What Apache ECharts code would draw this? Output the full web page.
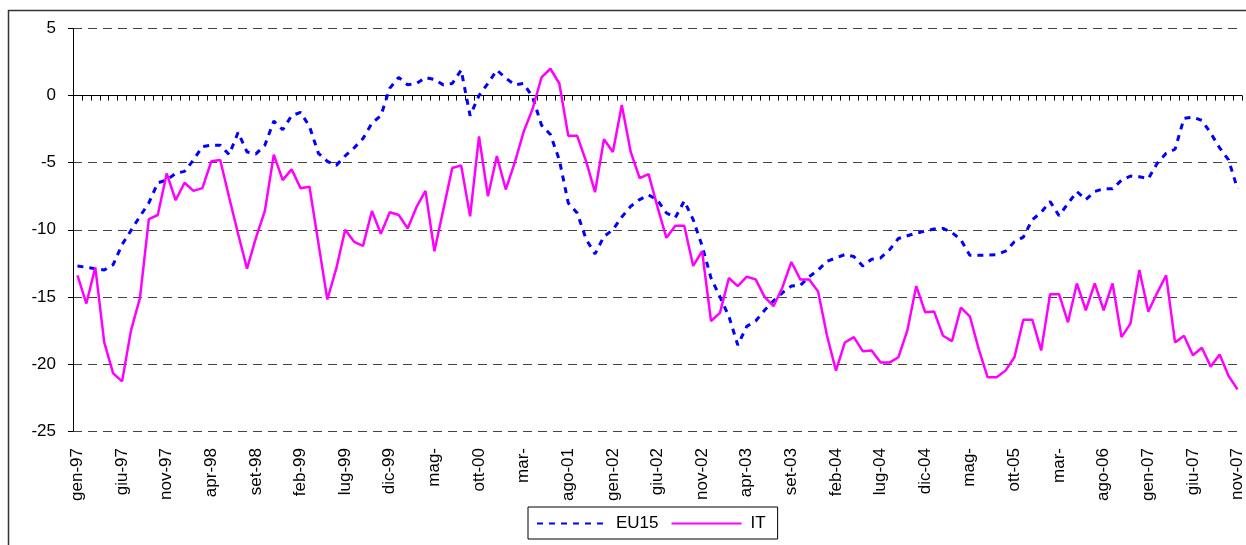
<!DOCTYPE html>
<html>
<head>
<meta charset="utf-8">
<script src="https://cdn.jsdelivr.net/npm/echarts@6/dist/echarts.min.js"></script>
<style>html,body{margin:0;padding:0;background:#fff}#c{width:1246px;height:545px}</style>
</head>
<body>
<div id="c"></div>
<script>
var monthNames = ['gen','feb','mar','apr','mag','giu','lug','ago','set','ott','nov','dic'];
var categories = [];
for (var y = 1997; y <= 2007; y++) {
  for (var m = 0; m < 12; m++) {
    if (y === 2007 && m > 10) break;
    categories.push(monthNames[m] + '-' + String(y).slice(2));
  }
}
var tickLabels = ['gen-97','giu-97','nov-97','apr-98','set-98','feb-99','lug-99','dic-99','mag-','ott-00','mar-','ago-01','gen-02','giu-02','nov-02','apr-03','set-03','feb-04','lug-04','dic-04','mag-','ott-05','mar-','ago-06','gen-07','giu-07','nov-07'];

var EU15 = [-12.7,-12.8,-12.9,-13.0,-12.6,-11.1,-10.05,-9.0,-8.0,-6.5,
  -6.3,-5.8,-5.65,-4.8,-3.8,-3.7,-3.7,-4.4,-2.75,-4.2,
  -4.35,-3.7,-1.9,-2.55,-1.5,-1.25,-2.3,-4.3,-4.9,-5.2,
  -4.5,-3.9,-3.2,-2.05,-1.5,0.55,1.36,0.8,0.9,1.35,
  1.2,0.8,0.9,1.9,-1.5,0.0,0.9,1.9,1.3,0.8,
  0.9,-0.1,-2.2,-2.9,-4.8,-8.0,-8.75,-10.7,-11.8,-10.5,
  -10.0,-9.05,-8.25,-7.75,-7.4,-7.8,-8.75,-9.1,-7.85,-9.25,
  -11.2,-13.6,-15.0,-16.45,-18.6,-17.2,-16.8,-16.0,-15.3,-14.7,
  -14.2,-14.15,-13.5,-13.0,-12.35,-12.1,-11.85,-12.0,-12.7,-12.2,
  -12.1,-11.5,-10.65,-10.45,-10.25,-10.1,-9.95,-9.9,-10.2,-10.75,
  -11.9,-11.9,-11.9,-11.85,-11.6,-10.9,-10.55,-9.25,-8.7,-7.9,
  -8.95,-8.05,-7.15,-7.75,-7.15,-6.95,-6.95,-6.3,-6.0,-6.05,
  -6.2,-5.05,-4.3,-4.0,-1.7,-1.6,-1.85,-2.8,-3.9,-4.8,
  -6.95];

var IT = [-13.4,-15.5,-12.8,-18.4,-20.7,-21.3,-17.5,-15.1,-9.2,-8.9,
  -5.8,-7.8,-6.5,-7.1,-6.9,-4.9,-4.8,-7.6,-10.3,-12.9,
  -10.6,-8.6,-4.4,-6.3,-5.5,-6.9,-6.8,-11.0,-15.2,-12.9,
  -10.0,-10.9,-11.2,-8.6,-10.3,-8.7,-8.9,-9.9,-8.3,-7.1,
  -11.6,-8.5,-5.4,-5.2,-9.0,-3.05,-7.5,-4.5,-7.0,-5.0,
  -2.7,-1.0,1.35,2.0,0.9,-3.0,-3.0,-4.9,-7.2,-3.25,
  -4.2,-0.7,-4.2,-6.15,-5.85,-8.3,-10.6,-9.7,-9.7,-12.7,
  -11.6,-16.8,-16.2,-13.6,-14.2,-13.5,-13.7,-15.0,-15.7,-14.3,
  -12.4,-13.7,-13.7,-14.6,-17.9,-20.5,-18.4,-18.0,-19.05,-19.0,
  -19.9,-19.9,-19.5,-17.5,-14.2,-16.15,-16.1,-17.9,-18.3,-15.8,
  -16.45,-18.9,-21.0,-21.0,-20.5,-19.5,-16.7,-16.7,-19.0,-14.8,
  -14.8,-16.9,-14.0,-16.0,-14.0,-16.0,-14.0,-18.0,-17.0,-13.0,
  -16.1,-14.7,-13.4,-18.4,-17.9,-19.35,-18.8,-20.2,-19.3,-20.9,
  -21.9];

var FONT = '"Liberation Sans", Arial, sans-serif';
var chart = echarts.init(document.getElementById('c'), null, {renderer: 'canvas'});
chart.setOption({
  animation: false,
  backgroundColor: '#ffffff',
  graphic: [{
    type: 'rect',
    shape: {x: 8.5, y: 10.5, width: 1260, height: 560},
    style: {fill: 'none', stroke: '#333', lineWidth: 1.5},
    silent: true, z: -1
  }],
  grid: {left: 73, right: 0, top: 28.5, bottom: 114, containLabel: false},
  legend: {
    data: ['EU15', 'IT'],
    left: 528, top: 507,
    orient: 'horizontal',
    itemWidth: 70, itemHeight: 10, itemGap: 12,
    padding: [8, 12, 7, 8],
    borderColor: '#000', borderWidth: 1,
    backgroundColor: '#fff',
    itemStyle: {opacity: 0},
    textStyle: {fontFamily: FONT, fontSize: 17, color: '#000', padding: [0, 0, 0, 4]}
  },
  xAxis: [{
    type: 'category', data: categories, position: 'bottom', boundaryGap: true,
    axisLine: {show: false, onZero: false},
    axisTick: {show: false},
    axisLabel: {
      interval: 0, rotate: 90, margin: 17,
      fontFamily: FONT, fontSize: 17, color: '#000',
      formatter: function (v, i) { return i % 5 === 0 ? tickLabels[i / 5] : ''; }
    },
    splitLine: {show: false}
  }, {
    type: 'category', data: categories, position: 'top', boundaryGap: true,
    axisLine: {show: true, onZero: true, lineStyle: {color: '#000', width: 1}},
    axisTick: {show: true, inside: true, length: 5, interval: 0, lineStyle: {color: '#000'}},
    axisLabel: {show: false},
    splitLine: {show: false}
  }],
  yAxis: {
    type: 'value', min: -25, max: 5, interval: 5,
    axisLine: {show: true, onZero: false, lineStyle: {color: '#000', width: 1}},
    axisTick: {show: true, length: 5, lineStyle: {color: '#000'}},
    axisLabel: {margin: 17, fontFamily: FONT, fontSize: 17, color: '#000'},
    splitLine: {show: true, lineStyle: {color: '#444', width: 1, type: [9, 6]}}
  },
  series: [{
    name: 'EU15', type: 'line', data: EU15, xAxisIndex: 0,
    symbol: 'none', smooth: false,
    lineStyle: {color: '#0000FF', width: 3, type: [6, 6]},
    itemStyle: {color: '#0000FF'},
    z: 2
  }, {
    name: 'IT', type: 'line', data: IT, xAxisIndex: 0,
    symbol: 'none', smooth: false,
    lineStyle: {color: '#FF00FF', width: 2.5},
    itemStyle: {color: '#FF00FF'},
    z: 3
  }]
});
</script>
</body>
</html>
